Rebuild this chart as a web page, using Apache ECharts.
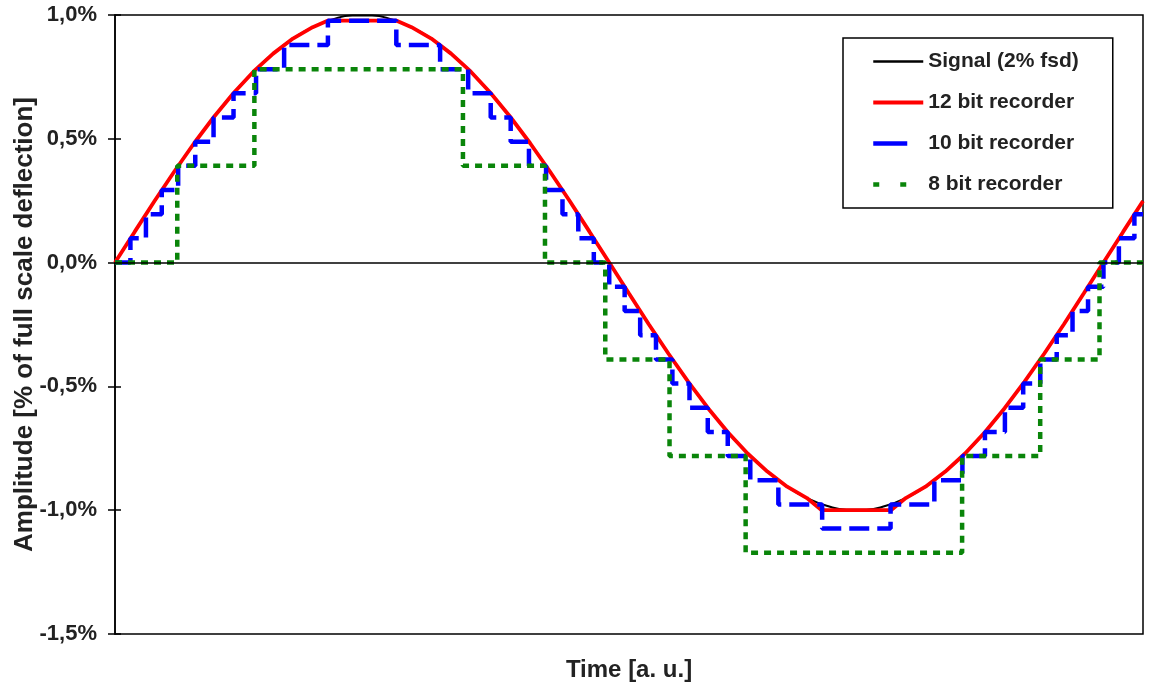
<!DOCTYPE html>
<html>
<head>
<meta charset="utf-8">
<title>Signal quantization</title>
<script src="https://cdn.jsdelivr.net/npm/echarts@6/dist/echarts.min.js"></script>
<style>
  html, body { margin: 0; padding: 0; background: #fff; }
  #main { width: 1149px; height: 686px; }
</style>
</head>
<body>
<div id="main"></div>
<script>
// time axis (a. u.), one period = 100
var time = [0, 2, 4, 6, 8, 10, 12, 14, 16, 18, 20, 22, 24, 26, 28, 30, 32, 34, 36, 38, 40, 42, 44, 46, 48, 50,
            52, 54, 56, 58, 60, 62, 64, 66, 68, 70, 72, 74, 76, 78, 80, 82, 84, 86, 88, 90, 92, 94, 96, 98, 100, 102, 104];
// signal amplitude, % of full scale
var signal = [0, 0.125, 0.249, 0.368, 0.482, 0.588, 0.685, 0.771, 0.844, 0.905, 0.951, 0.982, 0.998, 0.998, 0.982, 0.951,
              0.905, 0.844, 0.771, 0.685, 0.588, 0.482, 0.368, 0.249, 0.125, 0,
              -0.125, -0.249, -0.368, -0.482, -0.588, -0.685, -0.771, -0.844, -0.905, -0.951, -0.982, -0.998, -0.998, -0.982,
              -0.951, -0.905, -0.844, -0.771, -0.685, -0.588, -0.482, -0.368, -0.249, -0.125, 0, 0.125, 0.249];
// 12 bit recorder [time, value]
var rec12 = [[0, 0], [2, 0.125], [4, 0.249], [6, 0.368], [8, 0.482], [10, 0.588], [12, 0.685], [14, 0.771], [16, 0.844],
             [18, 0.905], [20, 0.951], [21.5, 0.977], [28.5, 0.977], [30, 0.951], [32, 0.905], [34, 0.844], [36, 0.771],
             [38, 0.685], [40, 0.588], [42, 0.482], [44, 0.368], [46, 0.249], [48, 0.125], [50, 0],
             [52, -0.125], [54, -0.249], [56, -0.368], [58, -0.482], [60, -0.588], [62, -0.685], [64, -0.771], [66, -0.844],
             [68, -0.905], [70, -0.951], [71.5, -1.0], [78.5, -1.0], [80, -0.951], [82, -0.905], [84, -0.844], [86, -0.771],
             [88, -0.685], [90, -0.588], [92, -0.482], [94, -0.368], [96, -0.249], [98, -0.125], [100, 0], [102, 0.125], [104, 0.249]];
// 10 bit recorder, held values [time, value]
var rec10 = [[0, 0], [1.56, 0.098], [3.13, 0.195], [4.73, 0.293], [6.39, 0.391], [8.12, 0.488], [9.97, 0.586], [11.99, 0.684],
             [14.27, 0.781], [17.11, 0.879], [21.54, 0.977], [28.46, 0.879], [32.89, 0.781], [35.73, 0.684], [38.01, 0.586],
             [40.03, 0.488], [41.88, 0.391], [43.61, 0.293], [45.27, 0.195], [46.87, 0.098], [48.44, 0], [50, -0.098],
             [51.56, -0.195], [53.13, -0.293], [54.73, -0.391], [56.39, -0.488], [58.12, -0.586], [59.97, -0.684],
             [61.99, -0.781], [64.27, -0.879], [67.11, -0.977], [71.54, -1.074], [78.46, -0.977], [82.89, -0.879],
             [85.73, -0.781], [88.01, -0.684], [90.03, -0.586], [91.88, -0.488], [93.61, -0.391], [95.27, -0.293],
             [96.87, -0.195], [98.44, -0.098], [100, 0], [101.56, 0.098], [103.13, 0.195], [104, 0.195]];
// 8 bit recorder, held values [time, value]
var rec8 = [[0, 0], [6.3, 0.391], [14.1, 0.781], [35.2, 0.391], [43.5, 0], [49.6, -0.391], [56.1, -0.781],
            [63.8, -1.172], [85.7, -0.781], [93.6, -0.391], [99.6, 0], [104, 0]];
var names = ['Signal (2% fsd)', '12 bit recorder', '10 bit recorder', '8 bit recorder'];

var font = 'Liberation Sans, Arial, sans-serif';
var txt = '#222';

var chart = echarts.init(document.getElementById('main'));
chart.setOption({
    animation: false,
    backgroundColor: '#fff',
    grid: {
        left: 115, right: 6, top: 15, bottom: 52,
        outerBoundsMode: 'none', containLabel: false,
        show: true, borderColor: '#000', borderWidth: 1.5, backgroundColor: 'transparent'
    },
    legend: {
        orient: 'vertical',
        left: 843, top: 38,
        padding: [13, 34, 13, 28],
        itemGap: 20,
        itemWidth: 50, itemHeight: 14,
        backgroundColor: '#fff',
        borderColor: '#000', borderWidth: 1.5,
        itemStyle: { color: 'transparent', borderWidth: 0, opacity: 0 },
        lineStyle: { width: 'inherit' },
        textStyle: { fontFamily: font, fontSize: 21, fontWeight: 'bold', color: txt },
        data: [
            { name: names[0], lineStyle: { width: 2.5 } },
            { name: names[1] },
            { name: names[2], lineStyle: { type: [34, 40] } },
            { name: names[3], lineStyle: { type: [6, 21] } }
        ]
    },
    xAxis: {
        type: 'value', min: 0, max: 104,
        name: 'Time [a. u.]', nameLocation: 'middle', nameGap: 24, nameMoveOverlap: false,
        nameTextStyle: { fontFamily: font, fontSize: 24, fontWeight: 'bold', color: txt },
        axisLine: { show: false, onZero: false },
        axisTick: { show: false }, axisLabel: { show: false }, splitLine: { show: false }
    },
    yAxis: [{
        type: 'value', min: -1.5, max: 1.0, interval: 0.5,
        name: 'Amplitude [% of full scale deflection]', nameLocation: 'middle', nameGap: 77, nameMoveOverlap: false,
        nameTextStyle: { fontFamily: font, fontSize: 26, fontWeight: 'bold', color: txt },
        axisLine: { show: true, lineStyle: { color: '#000', width: 1.5 } },
        axisTick: { show: true, length: 7, lineStyle: { color: '#000', width: 1.5 } },
        axisLabel: {
            margin: 18, fontFamily: font, fontSize: 22, fontWeight: 'bold', color: txt,
            formatter: function (v) { return v.toFixed(1).replace('.', ',') + '%'; }
        },
        splitLine: { show: false }
    }, {
        type: 'value', min: -1.5, max: 1.0, interval: 0.5, position: 'left',
        axisLine: { show: false },
        axisTick: { show: true, inside: true, length: 6, lineStyle: { color: '#000', width: 1.5 } },
        axisLabel: { show: false }, splitLine: { show: false }
    }],
    series: [{
        name: names[0], type: 'line', symbol: 'none', smooth: true,
        data: time.map(function (t, i) { return [t, signal[i]]; }),
        lineStyle: { color: '#000', width: 2 }, itemStyle: { color: '#000' },
        markLine: {
            silent: true, symbol: 'none', label: { show: false },
            lineStyle: { color: '#000', width: 1.5, type: 'solid' },
            data: [{ yAxis: 0 }]
        }
    }, {
        name: names[1], type: 'line', symbol: 'none',
        data: rec12,
        lineStyle: { color: '#ff0000', width: 3.8 }, itemStyle: { color: '#ff0000' }
    }, {
        name: names[2], type: 'line', symbol: 'none', step: 'end',
        data: rec10,
        lineStyle: { color: '#0000ff', width: 4.5, type: [20, 8], cap: 'butt' }, itemStyle: { color: '#0000ff' }
    }, {
        name: names[3], type: 'line', symbol: 'none', step: 'end',
        data: rec8,
        lineStyle: { color: '#0a850a', width: 4.5, type: [7, 6], cap: 'butt' }, itemStyle: { color: '#0a850a' }
    }]
});
</script>
</body>
</html>
